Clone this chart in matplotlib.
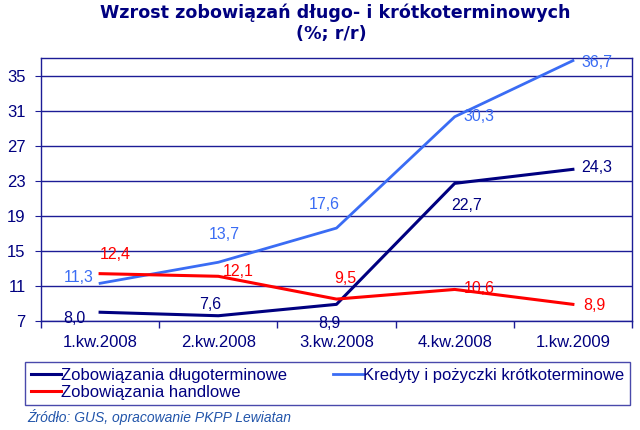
import matplotlib.pyplot as plt
import numpy as np

plt.rcParams['font.family'] = ['Liberation Sans', 'DejaVu Sans']

quarters = ['1.kw.2008', '2.kw.2008', '3.kw.2008', '4.kw.2008', '1.kw.2009']
dlugo = [8.0, 7.6, 8.9, 22.7, 24.3]
kredyty = [11.3, 13.7, 17.6, 30.3, 36.7]
handlowe = [12.4, 12.1, 9.5, 10.6, 8.9]
yticks = [7, 11, 15, 19, 23, 27, 31, 35]

navy = '#000080'
blue = '#3a6cf4'
red = '#ff0000'
frame = '#1c1c96'

# label offsets in pixels (dx, dy) for each point
off_dlugo = [(-26, -6), (-8, 11), (-7, -19), (12, -22), (24, 2)]
off_kredyty = [(-21, 6), (6, 28), (-12, 24), (24, 0), (24, -2)]
off_handlowe = [(15, 19), (20, 5), (9, 21), (25, 1), (21, -1)]

fig = plt.figure(figsize=(6.4, 4.3), dpi=100)
ax = fig.add_axes([41/640, 1-321/430, 591/640, 263/430])

x = np.arange(len(quarters))
l1, = ax.plot(x, dlugo, color=navy, lw=2.2, label='Zobowiązania długoterminowe')
l2, = ax.plot(x, kredyty, color=blue, lw=2.0, label='Kredyty i pożyczki krótkoterminowe')
l3, = ax.plot(x, handlowe, color=red, lw=2.2, label='Zobowiązania handlowe')

for vals, offs, col in [(dlugo, off_dlugo, navy), (kredyty, off_kredyty, blue),
                        (handlowe, off_handlowe, red)]:
    for xi, v, (dx, dy) in zip(x, vals, offs):
        ax.annotate(('%.1f' % v).replace('.', ','), xy=(xi, v), xytext=(dx, dy),
                    textcoords='offset pixels', ha='center', va='center',
                    color=col, fontsize=11.5)

ax.set_xlim(-0.5, 4.5)
ax.set_ylim(7, 37)
ax.set_yticks(yticks)
ax.set_xticks(x)
ax.set_xticklabels(quarters)
ax.set_xticks(np.arange(-0.5, 5, 1), minor=True)
ax.tick_params(axis='x', which='major', length=0, pad=10, labelsize=12, labelcolor=navy)
ax.tick_params(axis='x', which='minor', length=5, color=frame, width=1)
ax.tick_params(axis='y', length=4, color=frame, labelsize=12, labelcolor=navy, pad=7)
ax.grid(axis='y', color=frame, lw=1)
for s in ax.spines.values():
    s.set_color(frame)
    s.set_linewidth(1)

fig.text(335/640, 1-13/430, 'Wzrost zobowiązań długo- i krótkoterminowych',
         ha='center', va='center', fontsize=12.6, fontweight='bold', color=navy,
         family='DejaVu Sans')
fig.text(331/640, 1-34/430, '(%; r/r)', ha='center', va='center',
         fontsize=12.6, fontweight='bold', color=navy, family='DejaVu Sans')

leg = fig.legend([l1, l3, l2], [l1.get_label(), l3.get_label(), l2.get_label()],
                 ncol=2, loc='upper left', bbox_to_anchor=(25/640, 1-362/430),
                 fancybox=False, edgecolor=frame, fontsize=12,
                 handlelength=1.8, handletextpad=0.0, borderpad=0.35,
                 labelspacing=0.1, columnspacing=2.8, borderaxespad=0)
for t in leg.get_texts():
    t.set_color(navy)
leg.get_frame().set_linewidth(1)

fig.text(27/640, 1-417/430, 'Źródło: GUS, opracowanie PKPP Lewiatan',
         ha='left', va='center', fontsize=10, style='italic', color='#2255aa')

fig.savefig('out.png', dpi=100)
